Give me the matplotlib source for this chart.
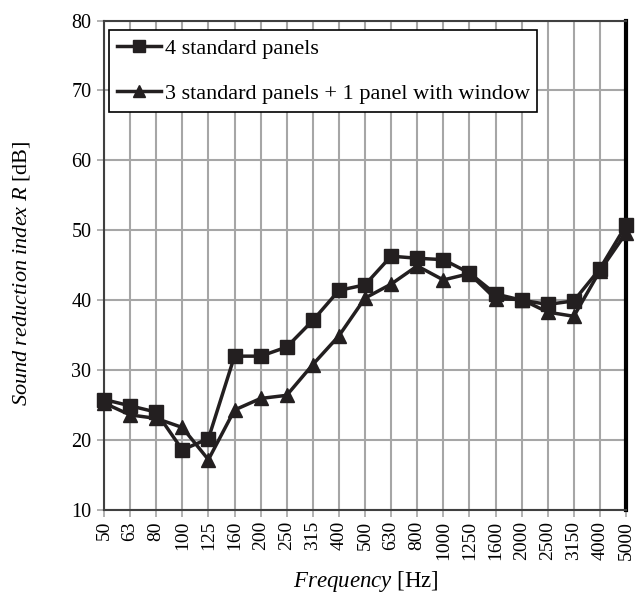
import matplotlib
matplotlib.use("Agg")
import matplotlib.pyplot as plt
import numpy as np

categories = ["50", "63", "80", "100", "125", "160", "200", "250", "315", "400",
              "500", "630", "800", "1000", "1250", "1600", "2000", "2500", "3150",
              "4000", "5000"]
std4 = [25.8, 24.9, 24.0, 18.6, 20.2, 32.0, 32.0, 33.3, 37.1, 41.4,
        42.2, 46.3, 46.0, 45.8, 43.9, 40.9, 40.0, 39.4, 39.9, 44.5, 50.7]
std3_win = [25.3, 23.6, 23.1, 21.8, 17.2, 24.3, 25.95, 26.4, 30.8, 34.9,
            40.3, 42.3, 44.9, 42.9, 43.8, 40.2, 40.1, 38.3, 37.7, 44.2, 49.6]
legend_labels = ["4 standard panels", "3 standard panels + 1 panel with window"]

plt.rcParams['font.family'] = ['Liberation Serif', 'DejaVu Serif']
plt.rcParams['mathtext.fontset'] = 'custom'
plt.rcParams['mathtext.rm'] = 'Liberation Serif'
plt.rcParams['mathtext.it'] = 'Liberation Serif:italic'

W, H = 636, 597
fig = plt.figure(figsize=(W/100, H/100), dpi=100)
ax = fig.add_axes([104/W, 1 - 510/H, (626-104)/W, (510-20.5)/H])

x = np.arange(len(categories))
col = '#231f20'
ax.plot(x, std4, color=col, lw=2.5, marker='s', ms=9.5, label=legend_labels[0], zorder=4,
        clip_on=False)
ax.plot(x, std3_win, color=col, lw=2.5, marker='^', ms=10, label=legend_labels[1], zorder=3,
        clip_on=False)

ax.set_xlim(0, len(categories) - 1)
ax.set_ylim(10, 80)
ax.set_xticks(x)
ax.set_xticklabels(categories, rotation=90, fontsize=14)
ax.set_yticks(np.arange(10, 81, 10))
ax.tick_params(axis='y', labelsize=14.5, length=5, color='#a6a6a6', width=1.2, pad=4)
ax.tick_params(axis='x', length=5, color='#a6a6a6', width=1.2, pad=3)
ax.grid(True, color='#a6a6a6', lw=1.5)
ax.set_axisbelow(True)
for s in ['left', 'bottom', 'top']:
    ax.spines[s].set_color('#404040')
    ax.spines[s].set_linewidth(1.5)
ax.spines['right'].set_color('black')
ax.spines['right'].set_linewidth(3)

fig.text(22/W, 1 - 273/H, r'$\mathit{Sound\ reduction\ index\ R}$ [dB]', fontsize=16,
         rotation=90, ha='center', va='center')
fig.text(366/W, 1 - 582/H, r'$\mathit{Frequency}$ [Hz]', fontsize=16.5,
         ha='center', va='center')

leg = ax.legend(loc='upper left', bbox_to_anchor=(5/522, 1 - 10/489.5), fontsize=16,
                frameon=True, fancybox=False, edgecolor='black', framealpha=1,
                handlelength=2.0, handletextpad=0.15, borderpad=0.35, labelspacing=1.1,
                markerscale=0.9, borderaxespad=0)
leg.get_frame().set_linewidth(1.2)

fig.savefig('out.png', dpi=100)
